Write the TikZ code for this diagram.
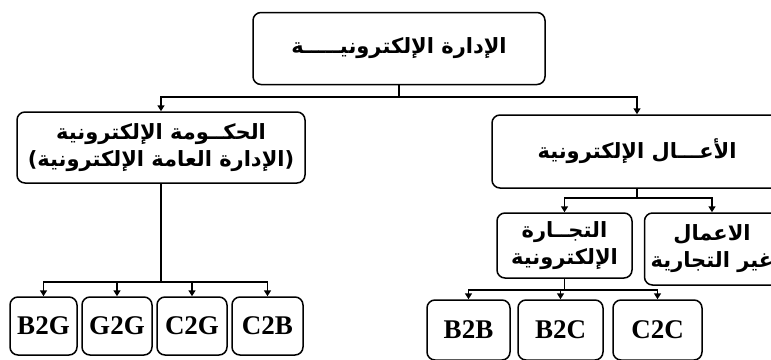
\documentclass[tikz,border=0pt]{standalone}
\usepackage{fontspec}
\setmainfont{Liberation Serif}
\newfontfamily\arabicfont[Script=Arabic]{DejaVu Sans}
\TeXXeTstate=1
\usetikzlibrary{arrows.meta}
\usetikzlibrary{positioning}

\newcommand{\artxt}[1]{\beginR #1\endR}

\begin{document}
\begin{tikzpicture}[x=1pt, y=-1pt,
    box/.style={draw, black, line width=1.5pt, rounded corners=8pt, align=center, inner sep=0pt},
    arbox/.style={box, font=\arabicfont\bfseries\fontsize{21}{27}\selectfont},
    codebox/.style={box, font=\bfseries\fontsize{27}{28}\selectfont},
    link/.style={black, line width=1.5pt},
    arr/.style={link, -{Triangle[length=6pt, width=7pt]}}]

    \useasboundingbox (0,0) rectangle (771,359);
    \clip (0,0) rectangle (771,359);

    \node[arbox, minimum width=292pt, minimum height=72pt] (eadmin) at (399,48.5) {\artxt{الإدارة الإلكترونيـــــة}};
    \node[arbox, minimum width=288pt, minimum height=71pt] (egov) at (161,147.5) {\artxt{الحكــومة الإلكترونية}\\\artxt{(الإدارة العامة الإلكترونية)}};
    \node[arbox, minimum width=290pt, minimum height=73pt] (ebus) at (637,151.5) {\artxt{الأعـــال الإلكترونية}};
    \node[arbox, minimum width=135pt, minimum height=65pt] (ecom) at (564.5,245.5) {\artxt{التجــارة}\\\artxt{الإلكترونية}};
    \node[arbox, minimum width=135pt, minimum height=72pt] (nocom) at (712,249) {\artxt{الاعمال}\\\artxt{غير التجارية}};

    \node[codebox, minimum width=67pt, minimum height=58pt] (b2g) at (43.5,326) {B2G};
    \node[codebox, minimum width=70pt, minimum height=58pt] (g2g) at (117,326) {G2G};
    \node[codebox, minimum width=70pt, minimum height=58pt] (c2g) at (192,326) {C2G};
    \node[codebox, minimum width=71pt, minimum height=58pt] (c2b) at (267.5,326) {C2B};

    \node[codebox, minimum width=83pt, minimum height=60pt] (b2b) at (468.5,330) {B2B};
    \node[codebox, minimum width=85pt, minimum height=60pt] (b2c) at (560.5,330) {B2C};
    \node[codebox, minimum width=89pt, minimum height=60pt] (c2c) at (657.5,330) {C2C};

    \coordinate (bus1) at (397,97);
    \coordinate (bus2) at (0,198);
    \coordinate (bus3) at (0,290);
    \coordinate (bus4) at (0,282);

    \draw[link] (eadmin.south) -- (eadmin.south |- bus1);
    \draw[arr] (eadmin.south |- bus1) -| (egov.north);
    \draw[arr] (eadmin.south |- bus1) -| (ebus.north);

    \draw[link] (ebus.south) -- (ebus.south |- bus2);
    \draw[arr] (ebus.south |- bus2) -| (ecom.north);
    \draw[arr] (ebus.south |- bus2) -| (nocom.north);

    \draw[link] (ecom.south) -- (ecom.south |- bus3);
    \foreach \n in {b2b,b2c,c2c}
        \draw[arr] (ecom.south |- bus3) -| (\n.north);

    \draw[link] (egov.south) -- (egov.south |- bus4);
    \foreach \n in {b2g,g2g,c2g,c2b}
        \draw[arr] (egov.south |- bus4) -| (\n.north);
\end{tikzpicture}
\end{document}
